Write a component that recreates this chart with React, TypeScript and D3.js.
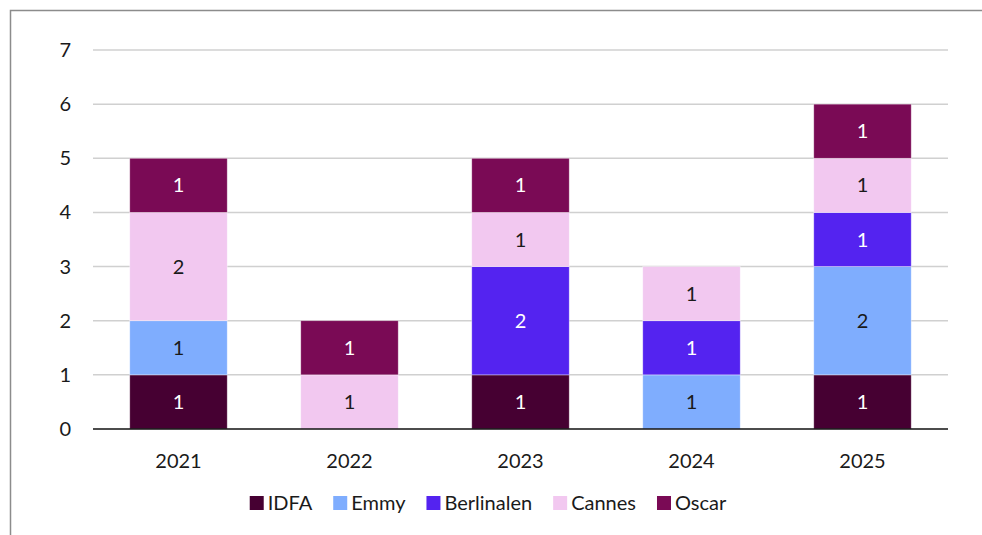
import React, { useRef, useEffect } from 'react';
import * as d3 from 'd3';

const years = ['2021', '2022', '2023', '2024', '2025'];
const seriesNames = ['IDFA', 'Emmy', 'Berlinalen', 'Cannes', 'Oscar'];
const idfa = [1, 0, 1, 0, 1];
const emmy = [1, 0, 0, 1, 2];
const berlinalen = [0, 0, 2, 1, 1];
const cannes = [2, 1, 1, 1, 1];
const oscar = [1, 1, 1, 0, 1];
const yTicks = [0, 1, 2, 3, 4, 5, 6, 7];

const colors = ['#460032', '#7fadfe', '#5423f0', '#f2c8f0', '#7a0a55'];
const labelColors = ['#ffffff', '#1a1a1a', '#ffffff', '#1a1a1a', '#ffffff'];

const App = () => {
  const svgRef = useRef<SVGSVGElement>(null);

  useEffect(() => {
    const width = 982;
    const height = 535;
    const margin = { top: 50, right: 34, bottom: 106, left: 93 };
    const innerWidth = width - margin.left - margin.right;
    const innerHeight = height - margin.top - margin.bottom;
    const font = 'Lato, Carlito, "Open Sans", sans-serif';
    const fs = '20px';

    const svg = d3.select(svgRef.current);
    svg.selectAll('*').remove();

    // chart border (frame extends past the window)
    svg.append('rect')
      .attr('x', 10.5).attr('y', 10.5)
      .attr('width', 1000).attr('height', 600)
      .attr('fill', '#fff')
      .attr('stroke', '#8c8c8c')
      .attr('stroke-width', 1.5);

    const table = years.map((y, i) => ({
      year: y,
      IDFA: idfa[i],
      Emmy: emmy[i],
      Berlinalen: berlinalen[i],
      Cannes: cannes[i],
      Oscar: oscar[i],
    }));
    const stacked = d3.stack<any>().keys(seriesNames)(table);

    const x = d3.scaleBand().domain(years).range([0, innerWidth]).paddingInner(0.43).paddingOuter(0.215);
    const y = d3.scaleLinear().domain([0, 7]).range([innerHeight, 0]);

    const g = svg.append('g').attr('transform', `translate(${margin.left},${margin.top})`);

    // gridlines
    g.selectAll('.grid')
      .data(yTicks.filter(t => t > 0))
      .enter()
      .append('line')
      .attr('x1', 0).attr('x2', innerWidth)
      .attr('y1', d => y(d)).attr('y2', d => y(d))
      .attr('stroke', '#d0d0d0')
      .attr('stroke-width', 1.5);

    // y labels
    g.selectAll('.ytick')
      .data(yTicks)
      .enter()
      .append('text')
      .attr('x', -22)
      .attr('y', d => y(d))
      .attr('dy', '0.35em')
      .attr('text-anchor', 'end')
      .attr('font-family', font)
      .attr('font-size', fs)
      .attr('fill', '#1a1a1a')
      .text(d => d);

    // bars
    stacked.forEach((layer, si) => {
      const lg = g.append('g');
      lg.selectAll('rect')
        .data(layer.filter(d => d[1] - d[0] > 0))
        .enter()
        .append('rect')
        .attr('x', d => x(d.data.year)!)
        .attr('y', d => y(d[1]))
        .attr('width', x.bandwidth())
        .attr('height', d => y(d[0]) - y(d[1]))
        .attr('fill', colors[si])
        .attr('stroke', '#ffffff')
        .attr('stroke-opacity', 0.5)
        .attr('stroke-width', 0.75);

      lg.selectAll('text')
        .data(layer.filter(d => d[1] - d[0] > 0))
        .enter()
        .append('text')
        .attr('x', d => x(d.data.year)! + x.bandwidth() / 2)
        .attr('y', d => (y(d[0]) + y(d[1])) / 2)
        .attr('dy', '0.35em')
        .attr('text-anchor', 'middle')
        .attr('font-family', font)
        .attr('font-size', fs)
        .attr('fill', labelColors[si])
        .text(d => d[1] - d[0]);
    });

    // baseline
    g.append('line')
      .attr('x1', 0).attr('x2', innerWidth)
      .attr('y1', y(0)).attr('y2', y(0))
      .attr('stroke', '#111')
      .attr('stroke-width', 1.5);

    // x labels
    g.selectAll('.xtick')
      .data(years)
      .enter()
      .append('text')
      .attr('x', d => x(d)! + x.bandwidth() / 2)
      .attr('y', innerHeight + 32)
      .attr('dy', '0.35em')
      .attr('text-anchor', 'middle')
      .attr('font-family', font)
      .attr('font-size', fs)
      .attr('fill', '#1a1a1a')
      .text(d => d);

    // legend
    const legend = svg.append('g');
    let cursor = 0;
    seriesNames.forEach((name, i) => {
      const item = legend.append('g').attr('transform', `translate(${cursor},0)`);
      item.append('rect')
        .attr('x', 0).attr('y', -7)
        .attr('width', 14).attr('height', 14)
        .attr('fill', colors[i]);
      const t = item.append('text')
        .attr('x', 18)
        .attr('y', 0)
        .attr('dy', '0.35em')
        .attr('font-family', font)
        .attr('font-size', fs)
        .attr('fill', '#1a1a1a')
        .text(name);
      const w = (t.node() as SVGTextElement).getComputedTextLength();
      cursor += 18 + w + 21;
    });
    const total = cursor - 21;
    legend.attr('transform', `translate(${488 - total / 2},503)`);
  }, []);

  return <svg ref={svgRef} width={982} height={535} style={{ display: 'block', position: 'absolute', left: 0, top: 0 }} />;
};

export default App;
